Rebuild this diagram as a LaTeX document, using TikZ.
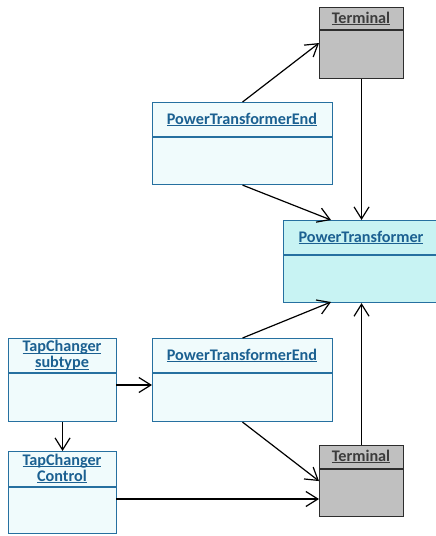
\documentclass[tikz,border=0pt]{standalone}
\usepackage{fontspec}
\setmainfont{Carlito}
\usetikzlibrary{arrows.meta}

\definecolor{clsline}{RGB}{38,112,160}
\definecolor{clstext}{RGB}{27,96,145}
\definecolor{clspale}{RGB}{240,251,252}
\definecolor{clscyan}{RGB}{200,243,243}
\definecolor{termfill}{RGB}{192,192,192}
\definecolor{termline}{RGB}{45,45,45}
\definecolor{termtext}{RGB}{60,60,60}

\newcommand{\ulword}[1]{\setbox0\hbox{#1}\rlap{\rule[-1.6pt]{\wd0}{1pt}}\box0}

\begin{document}
\begin{tikzpicture}[x=1pt, y=-1pt,
    cls/.style={draw=clsline, fill=clspale, line width=1.1pt, anchor=north west, inner sep=0pt},
    term/.style={draw=termline, fill=termfill, line width=1.1pt, anchor=north west, inner sep=0pt},
    title/.style={text=clstext, font=\fontsize{16.2}{16}\selectfont\bfseries, align=center, inner sep=0pt},
    termtitle/.style={text=termtext, font=\fontsize{16.2}{16}\selectfont\bfseries, inner sep=0pt},
    assoc/.style={line width=1.2pt, -{Straight Barb[length=12pt, width=15pt, line width=1.2pt]}}]
        \clip (0,0) rectangle (436,536);

        \node[term, minimum width=84, minimum height=71] (termA) at (319,7) {};
        \node[termtitle] (termAname) at (361,18.5) {\ulword{Terminal}};
        \draw[termline, line width=1.1pt] (319,30) -- (403,30);

        \node[cls, minimum width=180, minimum height=82] (endA) at (152,102) {};
        \node[title] (endAname) at (242,119.5) {\ulword{PowerTransformerEnd}};
        \draw[clsline, line width=1.1pt] (152,137) -- (332,137);

        \node[cls, fill=clscyan, minimum width=157, minimum height=82] (xfmr) at (283,220) {};
        \node[title] (xfmrname) at (361,237.5) {\ulword{PowerTransformer}};
        \draw[clsline, line width=1.1pt] (283,255) -- (440,255);

        \node[cls, minimum width=108, minimum height=83] (tcsub) at (8,338) {};
        \node[title] (tcsubname) at (62,355.5) {\ulword{TapChanger}\\\ulword{subtype}};
        \draw[clsline, line width=1.1pt] (8,373) -- (116,373);

        \node[cls, minimum width=180, minimum height=83] (endB) at (152,338) {};
        \node[title] (endBname) at (242,355.5) {\ulword{PowerTransformerEnd}};
        \draw[clsline, line width=1.1pt] (152,373) -- (332,373);

        \node[cls, minimum width=108, minimum height=82] (tcctl) at (8,451) {};
        \node[title] (tcctlname) at (62,468.5) {\ulword{TapChanger}\\\ulword{Control}};
        \draw[clsline, line width=1.1pt] (8,487) -- (116,487);

        \node[term, minimum width=84, minimum height=71] (termB) at (319,445) {};
        \node[termtitle] (termBname) at (361,456.5) {\ulword{Terminal}};
        \draw[termline, line width=1.1pt] (319,469) -- (403,469);

        \coordinate (xfmrInA) at (331,220);
        \coordinate (xfmrInB) at (331,302);
        \coordinate (tcctlOut) at (116,499);
        \coordinate (tcsubOut) at (116,385);

        \draw[assoc] (endA.north) -- (termA.west);
        \draw[assoc] (termA.south) -- (termA.south |- xfmr.north);
        \draw[assoc] (endA.south) -- (xfmrInA);
        \draw[assoc] (endB.north) -- (xfmrInB);
        \draw[assoc] (termB.north) -- (termB.north |- xfmr.south);
        \draw[assoc] (endB.south) -- (termB.west);
        \draw[assoc] (tcctlOut) -- (tcctlOut -| termB.west);
        \draw[assoc] (tcsubOut) -- (tcsubOut -| endB.west);
        \draw[assoc] (tcsub.south) -- (tcctl.north);
    \end{tikzpicture}
\end{document}
